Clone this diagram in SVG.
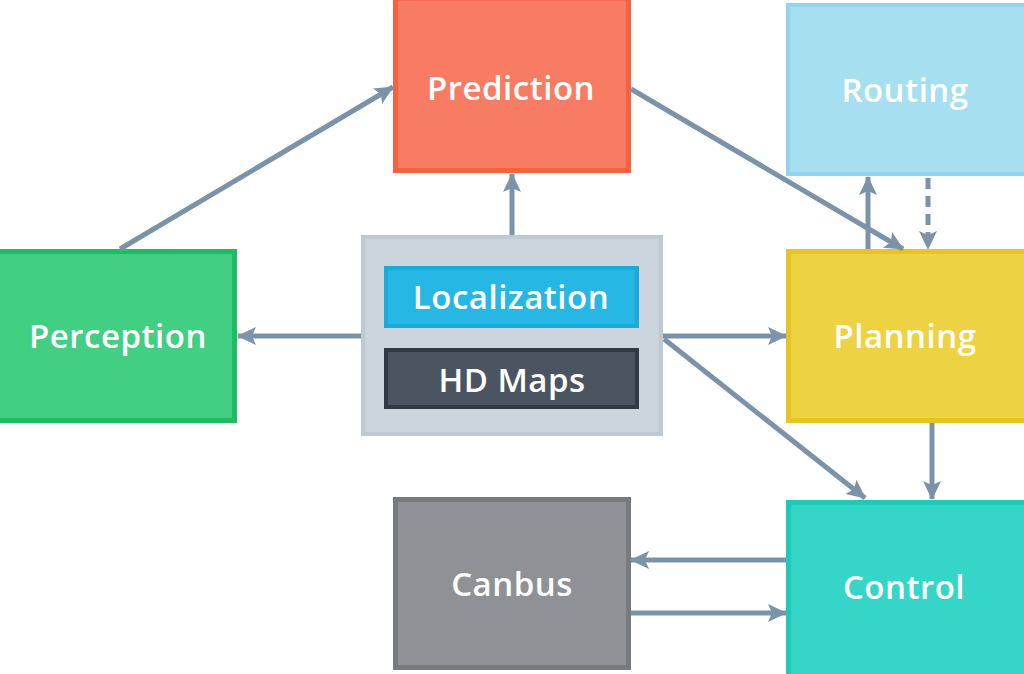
<svg xmlns="http://www.w3.org/2000/svg" width="1024" height="674" viewBox="0 0 1024 674">
<style>
.lbl{font-family:"Open Sans","Noto Sans","Liberation Sans",sans-serif;font-weight:600;fill:#ffffff;text-anchor:middle;dominant-baseline:central}
.big{font-size:33px;letter-spacing:0.5px}
.c{fill:none;stroke:#7b93a8;stroke-width:5}
.dash{stroke-dasharray:11 7}
</style>
<defs>
<marker id="ah" markerUnits="userSpaceOnUse" markerWidth="20" markerHeight="20" refX="18" refY="9" orient="auto" viewBox="0 0 20 18">
<path d="M0,0 L19,9 L0,18 L4,9 z" fill="#7b93a8"/>
</marker>
</defs>
<rect width="1024" height="674" fill="#ffffff"/>
<g id="prediction">
<rect x="395.5" y="-2" width="233" height="172.5" fill="#f87c63" stroke="#f4623f" stroke-width="5"/>
<text class="lbl big" x="511" y="87">Prediction</text>
</g>
<g id="routing">
<rect x="788" y="5" width="240" height="169" fill="#a6dff0" stroke="#8fd5ec" stroke-width="4"/>
<text class="lbl big" x="905" y="89">Routing</text>
</g>
<g id="perception">
<rect x="-3" y="251.5" width="237.5" height="169" fill="#42cf83" stroke="#1ebd63" stroke-width="5"/>
<text class="lbl big" x="118" y="335">Perception</text>
</g>
<g id="planning">
<rect x="788.5" y="251.5" width="240" height="169" fill="#edd244" stroke="#e6c424" stroke-width="5"/>
<text class="lbl big" x="905" y="335">Planning</text>
</g>
<g id="control">
<rect x="788.5" y="502.5" width="240" height="175" fill="#35d6c7" stroke="#1dcab9" stroke-width="5"/>
<text class="lbl big" x="904" y="586">Control</text>
</g>
<g id="canbus">
<rect x="395.5" y="499.5" width="233" height="168" fill="#8e9296" stroke="#767b80" stroke-width="5"/>
<text class="lbl big" x="512" y="583">Canbus</text>
</g>
<g id="core">
<rect x="363" y="237" width="298" height="197" fill="#ccd5dd" stroke="#bfc9d2" stroke-width="4"/>
<g id="localization">
<rect x="386" y="268" width="251" height="58" fill="#27b7e4" stroke="#1aa9dc" stroke-width="4"/>
<text class="lbl big" x="511" y="296">Localization</text>
</g>
<g id="hdmaps">
<rect x="386" y="350" width="251" height="57" fill="#4a5561" stroke="#2e3a45" stroke-width="4"/>
<text class="lbl big" x="512" y="379">HD Maps</text>
</g>
</g>
<g id="connectors">
<line class="c" x1="120" y1="249" x2="393" y2="87" marker-end="url(#ah)"/>
<line class="c" x1="512" y1="235" x2="512" y2="174" marker-end="url(#ah)"/>
<line class="c" x1="631" y1="89" x2="903" y2="249" marker-end="url(#ah)"/>
<line class="c" x1="868" y1="249" x2="868" y2="177" marker-end="url(#ah)"/>
<line class="c dash" x1="928" y1="178" x2="928" y2="249" marker-end="url(#ah)"/>
<line class="c" x1="361" y1="336" x2="238" y2="336" marker-end="url(#ah)"/>
<line class="c" x1="663" y1="336" x2="786" y2="336" marker-end="url(#ah)"/>
<line class="c" x1="664" y1="339" x2="865" y2="498" marker-end="url(#ah)"/>
<line class="c" x1="932" y1="423" x2="932" y2="499" marker-end="url(#ah)"/>
<line class="c" x1="786" y1="560" x2="631" y2="560" marker-end="url(#ah)"/>
<line class="c" x1="631" y1="613" x2="786" y2="613" marker-end="url(#ah)"/>
</g>
</svg>
